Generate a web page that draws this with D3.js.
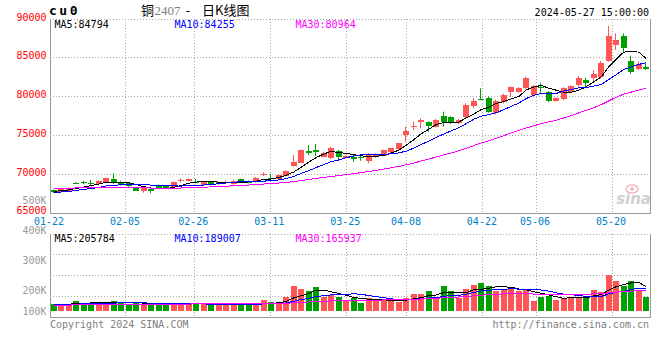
<!DOCTYPE html>
<html>
<head>
<meta charset="utf-8">
<title>cu0 日K线图</title>
<style>
  body { margin: 0; background: #fff; }
  svg text { font-family: "DejaVu Sans Mono", "Liberation Mono", monospace; font-size: 10px; }
  .grid { stroke: #a8a8a8; stroke-width: 1; stroke-dasharray: 1,2; shape-rendering: crispEdges; fill: none; }
  .frame { stroke: #999; stroke-width: 1; shape-rendering: crispEdges; fill: none; }
  .ma { fill: none; stroke-width: 1; shape-rendering: crispEdges; }
</style>
</head>
<body>
<script src="https://d3js.org/d3.v7.min.js"></script>
<script>

// trading days in the window
var dates = [
  "01-22","01-23","01-24","01-25","01-26","01-29","01-30","01-31","02-01","02-02",
  "02-05","02-06","02-07","02-08","02-19","02-20","02-21","02-22","02-23","02-26",
  "02-27","02-28","02-29","03-01","03-04","03-05","03-06","03-07","03-08","03-11",
  "03-12","03-13","03-14","03-15","03-18","03-19","03-20","03-21","03-22","03-25",
  "03-26","03-27","03-28","03-29","04-01","04-02","04-03","04-08","04-09","04-10",
  "04-11","04-12","04-15","04-16","04-17","04-18","04-19","04-22","04-23","04-24",
  "04-25","04-26","04-29","04-30","05-06","05-07","05-08","05-09","05-10","05-13",
  "05-14","05-15","05-16","05-17","05-20","05-21","05-22","05-23","05-24","05-27"
];

var opens = [
  67950,67720,67800,68860,69010,68880,68710,68930,69360,69010,
  68800,68230,67850,68060,68580,68450,68360,69200,69140,68950,
  68620,68930,68670,68880,68670,69320,69140,68970,69980,69470,
  69400,69740,71030,71460,72970,73100,72230,72030,72970,72100,
  72230,72230,71720,72160,72360,72800,73190,75030,76160,76670,
  76670,76100,77490,77320,76540,77320,78770,79700,79850,77830,
  79250,80540,80620,81140,80190,81210,80620,79460,79680,80620,
  81480,82130,82390,82560,84580,86650,87810,84580,83550,83850
];
var highs = [
  68000,68100,68300,68950,69100,69230,69150,69550,70090,69100,
  68850,68300,68200,68100,68650,68580,69050,69440,69450,69360,
  69000,69000,69050,69140,69200,69400,69200,69600,70220,70000,
  69950,70450,72450,73150,73740,73870,72900,73520,73100,72400,
  72530,72400,72700,72650,73150,73400,74000,76100,76750,77190,
  76800,77100,78040,77450,77100,79120,79770,81060,80000,79600,
  80350,81270,81200,82560,81500,81780,80700,79900,81200,81450,
  82640,82430,83420,84580,89100,88150,88150,85270,84500,84280
];
var lows = [
  67550,67650,67700,68750,68700,68600,68650,68900,68700,68500,
  68350,67800,67590,67510,68150,68100,68300,68880,69050,68800,
  68550,68550,68600,68710,68600,68880,68800,68900,69740,69140,
  69350,69700,70940,71400,72450,72320,72150,71950,71770,72000,
  71590,71700,71400,72100,72300,72700,73100,74170,75680,75900,
  75460,76000,76100,76450,76400,77200,78480,79500,77900,77700,
  79100,79980,80500,81000,80000,80490,79300,79350,79500,80500,
  81300,81060,81970,82350,84500,86000,85650,82900,83420,83420
];
var closes = [
  67650,68060,68190,68820,68800,68670,69060,69450,68800,68580,
  68450,67850,68150,67850,68230,68250,69010,69250,69360,68900,
  68930,68620,68970,68930,69140,68930,68880,69520,70020,69420,
  69870,70390,71590,73100,72670,72880,72660,73320,72230,72320,
  71940,72030,72450,72580,73100,73320,73960,75550,76190,76970,
  76230,76970,76750,76620,76970,78900,79460,79640,78040,79460,
  80190,81190,81060,82350,81350,81180,79420,79770,81060,81350,
  82430,81700,82900,84360,87810,87290,86300,83120,84150,83550
];
var volumes = [
  57200,56800,57500,84100,69300,66000,55400,75200,84300,66100,
  55200,66300,55100,54800,46200,46500,57300,66200,65800,66400,
  57100,46300,57400,46100,57200,46400,46000,66300,93200,75100,
  55300,119200,216300,190100,172400,208200,117300,137100,122400,93300,
  108200,69100,108400,93100,93400,84200,78300,113200,146100,146400,
  172300,108100,219200,172100,108300,190200,225100,245300,219400,172200,
  190300,201200,172400,181300,84300,122200,131100,93400,108200,113300,
  113100,131300,181200,166100,313200,265300,220100,262400,181100,122300
];

// earlier sessions, only feed the moving averages at the left edge
var priorCloses = [
  67900,68000,67900,68500,68600,68400,68500,68400,68450,68600,
  68700,68800,69000,69100,68900,68500,68100,68000,67950,68000,
  67700,67500,67450,67550,67450,67600,67700,67800,68000
];
var priorVolumes = [
  46000,44000,48000,51000,45000,42000,47000,49000,43000,46000,
  50000,44000,41000,45000,47000,52000,46000,43000,44000,48000,
  47000,45000,42000,48000,50000,52000,55000,53000,54000
];

var priceTicks = [90000, 85000, 80000, 75000, 70000, 65000];
var volTicks = [500000, 400000, 300000, 200000, 100000];
var volTickLabels = ["500K", "400K", "300K", "200K", "100K"];
var dateTicks = ["01-22","02-05","02-26","03-11","03-25","04-08","04-22","05-06","05-20"];

var priceLegend = ["MA5:84794", "MA10:84255", "MA30:80964"];
var volLegend = ["MA5:205784", "MA10:189007", "MA30:165937"];
var maColors = ["#000000", "#0000ff", "#ff00ff"];
var maPeriods = [5, 10, 30];

var upColor = "#ff5555", downColor = "#00a000";

var W = 660, H = 360;
var left = 50, right = 650;
var mainTop = 19, mainBottom = 213;
var volTop = 234, volBottom = 317;

var svg = d3.select("body").append("svg")
    .attr("width", W)
    .attr("height", H);

// x: candles sit in equal slots, grid/labels run edge to edge
var xb = d3.scaleBand().domain(d3.range(dates.length)).range([left, right]);
var cx = function(i) { return xb(i) + xb.bandwidth() / 2; };
var gx = d3.scaleLinear().domain([0, dates.length - 1]).range([left, right]);

var py = d3.scaleLinear().domain([65000, 90000]).range([212.75, mainTop]);
var vy = d3.scaleLinear().domain([0, 500000]).range([310.5, 254.1]);
var vLabelY = d3.scaleLinear().domain([100000, 500000]).range([321, 200]);
var vGrid = d3.scaleLinear().domain([0, 4]).range([volTop, volBottom]);

function movingAvg(all, n, start) {
  return d3.range(start, all.length).map(function(i) {
    return d3.mean(all.slice(i - n + 1, i + 1));
  });
}
var allCloses = priorCloses.concat(closes);
var allVols = priorVolumes.concat(volumes);
var priceMA = maPeriods.map(function(n) { return movingAvg(allCloses, n, priorCloses.length); });
var volMA = maPeriods.map(function(n) { return movingAvg(allVols, n, priorVolumes.length); });

var tickIdx = dateTicks.map(function(d) { return dates.indexOf(d); });

// ---- grid ----
var grid = svg.append("g");
grid.selectAll(".hmain").data(priceTicks.filter(function(v) { return v > 65000; }))
  .enter().append("line").attr("class", "grid")
  .attr("x1", left).attr("x2", right)
  .attr("y1", function(d) { return py(d); }).attr("y2", function(d) { return py(d); });
grid.selectAll(".hvol").data([0, 1, 2, 3])
  .enter().append("line").attr("class", "grid")
  .attr("x1", left).attr("x2", right)
  .attr("y1", function(d) { return vGrid(d); }).attr("y2", function(d) { return vGrid(d); });
tickIdx.slice(1).forEach(function(i) {
  grid.append("line").attr("class", "grid")
    .attr("x1", gx(i)).attr("x2", gx(i)).attr("y1", mainTop).attr("y2", mainBottom);
  grid.append("line").attr("class", "grid")
    .attr("x1", gx(i)).attr("x2", gx(i)).attr("y1", volTop).attr("y2", volBottom);
});

// ---- frames ----
svg.append("path").attr("class", "frame")
  .attr("d", "M" + left + "," + mainTop + "V" + mainBottom + "H" + right + "V" + mainTop);
svg.append("path").attr("class", "frame")
  .attr("d", "M" + left + "," + volTop + "V" + volBottom + "H" + right + "V" + volTop);

// watermark
var wm = svg.append("g").attr("opacity", 0.9);
wm.append("ellipse").attr("cx", 632).attr("cy", 189).attr("rx", 6).attr("ry", 4)
  .attr("fill", "none").attr("stroke", "#f2b4b4").attr("stroke-width", 1.5);
wm.append("circle").attr("cx", 632).attr("cy", 189).attr("r", 2).attr("fill", "#f2b4b4");
wm.append("text").attr("x", 651).attr("y", 204).attr("text-anchor", "end")
  .style("font-family", "'DejaVu Sans', sans-serif").style("font-size", "15px")
  .style("font-style", "italic").style("font-weight", "bold")
  .attr("fill", "#cccccc").text("sina");

// ---- candles ----
svg.append("clipPath").attr("id", "clipMain").append("rect")
  .attr("x", left).attr("y", mainTop).attr("width", right - left).attr("height", mainBottom - mainTop);
svg.append("clipPath").attr("id", "clipVol").append("rect")
  .attr("x", left).attr("y", volTop).attr("width", right - left).attr("height", volBottom - volTop);

var main = svg.append("g").attr("clip-path", "url(#clipMain)");
var idx = d3.range(dates.length);
var colorOf = function(i) { return closes[i] >= opens[i] ? upColor : downColor; };
var bodyW = 6;

main.selectAll(".wick").data(idx).enter().append("line")
  .attr("x1", function(i) { return Math.round(cx(i)) - 0.5; })
  .attr("x2", function(i) { return Math.round(cx(i)) - 0.5; })
  .attr("y1", function(i) { return py(highs[i]); })
  .attr("y2", function(i) { return py(lows[i]); })
  .attr("stroke", colorOf).attr("stroke-width", 1);

main.selectAll(".body").data(idx).enter().append("rect")
  .attr("x", function(i) { return Math.round(cx(i)) - bodyW / 2; })
  .attr("width", bodyW)
  .attr("y", function(i) { return py(Math.max(opens[i], closes[i])); })
  .attr("height", function(i) { return Math.max(1, py(Math.min(opens[i], closes[i])) - py(Math.max(opens[i], closes[i]))); })
  .attr("fill", colorOf)
  .style("shape-rendering", "crispEdges");

priceMA.forEach(function(series, k) {
  main.append("path").datum(series).attr("class", "ma")
    .attr("stroke", maColors[k])
    .attr("d", d3.line().x(function(d, i) { return cx(i); }).y(function(d) { return py(d); }));
});

// ---- volume ----
var vol = svg.append("g").attr("clip-path", "url(#clipVol)");
vol.selectAll(".vbar").data(idx).enter().append("rect")
  .attr("x", function(i) { return Math.round(cx(i)) - bodyW / 2; })
  .attr("width", bodyW)
  .attr("y", function(i) { return vy(volumes[i]); })
  .attr("height", function(i) { return vy(0) - vy(volumes[i]); })
  .attr("fill", colorOf)
  .style("shape-rendering", "crispEdges");

volMA.forEach(function(series, k) {
  vol.append("path").datum(series).attr("class", "ma")
    .attr("stroke", maColors[k])
    .attr("d", d3.line().x(function(d, i) { return cx(i); }).y(function(d) { return vy(d); }));
});

// ---- axis labels ----
svg.selectAll(".plab").data(priceTicks).enter().append("text")
  .attr("x", 46.5).attr("y", function(d) { return py(d) + 1.5; })
  .attr("text-anchor", "end").attr("fill", "#ff0000")
  .text(function(d) { return d; });

svg.selectAll(".vlab").data(volTicks).enter().append("text")
  .attr("x", 46.5).attr("y", function(d) { return Math.min(vLabelY(d), 311) + 3.5; })
  .attr("text-anchor", "end").attr("fill", "#999")
  .text(function(d, i) { return volTickLabels[i]; });

svg.selectAll(".xlab").data(tickIdx).enter().append("text")
  .attr("x", function(i) { return gx(i) - 1; }).attr("y", 224.5)
  .attr("text-anchor", "middle").attr("fill", "#0080c8")
  .text(function(i) { return dates[i]; });

// ---- legends ----
var legendX = [54.5, 174.5, 295.5];
priceLegend.forEach(function(t, k) {
  svg.append("text").attr("x", legendX[k]).attr("y", 28).attr("fill", maColors[k]).text(t);
});
volLegend.forEach(function(t, k) {
  svg.append("text").attr("x", legendX[k]).attr("y", 242).attr("fill", maColors[k]).text(t);
});

// ---- titles ----
svg.append("text").attr("x", 49).attr("y", 15)
  .style("font-size", "13px").style("font-weight", "bold").style("letter-spacing", "2.5px")
  .text("cu0");

var cjk = "'Noto Sans CJK SC', sans-serif";
svg.append("text").attr("x", 141).attr("y", 15).style("font-family", cjk).style("font-size", "13px").text("铜");
svg.append("text").attr("x", 154.5).attr("y", 15)
  .style("font-family", "'Liberation Serif', serif").style("font-size", "13px")
  .attr("fill", "#808080").text("2407");
svg.append("text").attr("x", 188).attr("y", 15).attr("text-anchor", "middle")
  .style("font-family", cjk).style("font-size", "13px").text("-");
svg.append("text").attr("x", 202).attr("y", 15).style("font-family", cjk).style("font-size", "13px").text("日K线图");

svg.append("text").attr("x", 649).attr("y", 16).attr("text-anchor", "end").text("2024-05-27 15:00:00");

// ---- footer ----
svg.append("text").attr("x", 50).attr("y", 328).attr("fill", "#808080").text("Copyright 2024 SINA.COM");
svg.append("text").attr("x", 649).attr("y", 328).attr("text-anchor", "end").attr("fill", "#808080")
  .text("http://finance.sina.com.cn");

</script>
</body>
</html>
